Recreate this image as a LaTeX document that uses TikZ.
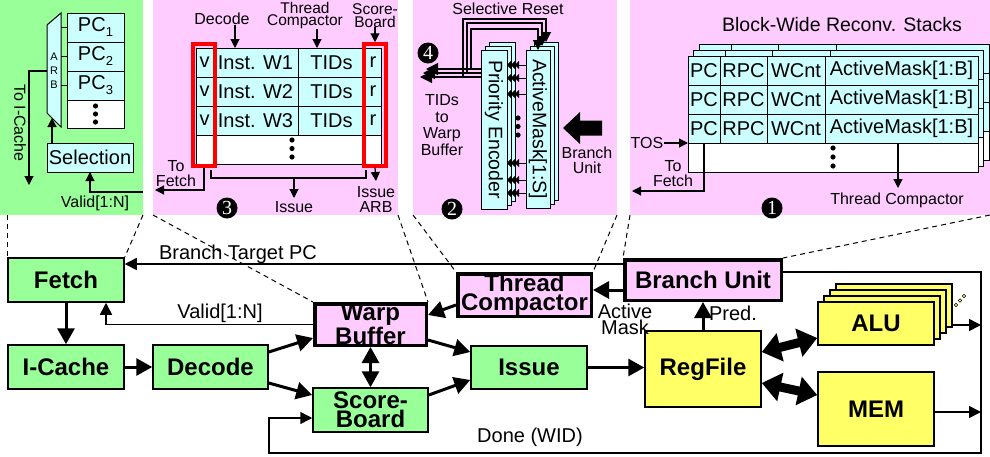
\documentclass[tikz,border=0pt]{standalone}
\usepackage{fontspec}
\setmainfont{Liberation Sans}
\newfontfamily\numfont{Liberation Serif}
\usetikzlibrary{arrows.meta,calc}

\definecolor{gpanel}{HTML}{99FF99}
\definecolor{ppanel}{HTML}{FFCCFF}
\definecolor{ccell}{HTML}{CCFFFF}
\definecolor{ybox}{HTML}{FFFF66}

\tikzset{
  fs/.style={font=\fontsize{#1}{#1}\selectfont},
  lab/.style={inner sep=0pt, align=center, font=\fontsize{16}{15.5}\selectfont},
  blab/.style={inner sep=0pt, align=center, font=\fontsize{20}{16}\selectfont},
  panel/.style={inner sep=0pt, outer sep=0pt, anchor=north west, draw=none},
  cell/.style={draw, fill=ccell, line width=1pt, inner sep=0pt, outer sep=0pt, font=\fontsize{20}{20}\selectfont},
  stagebox/.style={draw, line width=1.5pt, inner sep=0pt, align=center, font=\bfseries\fontsize{24}{19}\selectfont},
  gstage/.style={stagebox, fill=gpanel},
  pstage/.style={stagebox, fill=ppanel, line width=3.5pt},
  ystage/.style={stagebox, fill=ybox},
  redframe/.style={draw=red, line width=3.5pt, inner sep=0pt, fill=none},
  pwire/.style={line width=1.2pt},
  ptip/.style={-{Triangle[length=9pt,width=9pt]}},
  wire/.style={line width=1.5pt, -{Triangle[length=12pt,width=12pt]}},
  fatwire/.style={line width=3pt, -{Triangle[length=16pt,width=17pt]}},
  fatboth/.style={line width=3pt, {Triangle[length=16pt,width=17pt]}-{Triangle[length=16pt,width=17pt]}},
  widebus/.style={line width=9pt, {Triangle[length=19pt,width=28pt]}-{Triangle[length=19pt,width=28pt]}},
  zoomline/.style={line width=1pt, dash pattern=on 5pt off 4pt},
  numc/.style={circle, fill=black, text=white, minimum size=21pt, inner sep=0pt, font=\numfont\fontsize{20}{20}\selectfont},
}

\begin{document}
\begin{tikzpicture}[x=1pt,y=-1pt]
\useasboundingbox (0,0) rectangle (990,456);

% ---------------- detail panels
\node[panel, fill=gpanel, minimum width=143pt, minimum height=215pt] (pg) at (0,0) {};
\node[panel, fill=ppanel, minimum width=245pt, minimum height=215pt] (p3) at (153,0) {};
\node[panel, fill=ppanel, minimum width=204pt, minimum height=215pt] (p2) at (413,0) {};
\node[panel, fill=ppanel, minimum width=360pt, minimum height=215pt] (p1) at (630,0) {};

% ---------------- fetch detail: PC table, arbiter, selection
\draw[fill=ccell, line width=1pt] (47,25) -- (61,13) -- (61,127) -- (47,113) -- cycle;
\node[fs=11, inner sep=0pt] (arbA) at (54,57) {A};
\node[fs=11, inner sep=0pt] (arbR) at (54,71) {R};
\node[fs=11, inner sep=0pt] (arbB) at (54,85) {B};
\coordinate (arbout) at (47,71);
\coordinate (arbin) at (52,118);
\foreach \i/\y in {1/27.5,2/56.5,3/85.5}{
  \node[cell, minimum width=57pt, minimum height=29pt] (pc\i) at (95.5,\y) {PC\raisebox{-5pt}{\fontsize{13}{13}\selectfont\i}};
  \draw[line width=1pt] (pc\i.west) -- ++(-6,0);
}
\node[cell, fill=white, minimum width=57pt, minimum height=28pt] (pcdots) at (95.5,114) {};
\foreach \y in {106,114,122} \fill (95.5,\y) circle (2.6);
\node[cell, minimum width=86pt, minimum height=29pt] (sel) at (90,157.5) {Selection};
\draw[pwire, ptip] ([xshift=-38pt]sel.north) -- (arbin);
\coordinate (toic) at (29,185);
\draw[pwire, ptip] (arbout) -| (toic);
\node[lab, rotate=-90] (toictxt) at (20,123) {To I-Cache};
\coordinate (gvin) at (143,192);
\draw[pwire, ptip] (gvin) -| (sel.south);
\node[lab] (gvtxt) at (95,203) {Valid[1:N]};

% ---------------- warp buffer detail
\foreach \r/\y in {1/62.5,2/91.5,3/120.5}{
  \node[cell, minimum width=17pt, minimum height=29pt] (v\r) at (204.5,\y) {v};
  \node[cell, minimum width=85pt, minimum height=29pt] (in\r) at (255.5,\y) {Inst. W\r};
  \node[cell, minimum width=67pt, minimum height=29pt] (td\r) at (331.5,\y) {TIDs};
  \node[cell, minimum width=16pt, minimum height=29pt] (rr\r) at (373,\y) {r};
}
\node[cell, fill=white, minimum width=17pt, minimum height=29pt] (v4) at (204.5,149.5) {};
\node[cell, fill=white, minimum width=152pt, minimum height=29pt] (in4) at (289,149.5) {};
\node[cell, fill=white, minimum width=16pt, minimum height=29pt] (rr4) at (373,149.5) {};
\foreach \y in {140,148.5,157} \fill (292,\y) circle (2.6);
\node[redframe, minimum width=22pt, minimum height=122pt] (redv) at (204,105) {};
\node[redframe, minimum width=22pt, minimum height=122pt] (redr) at (375,105) {};

\node[lab] (declab) at (222,19) {Decode};
\node[lab, font=\fontsize{15.5}{12.5}\selectfont] (tclab) at (305,15.5) {Thread\\Compactor};
\node[lab, font=\fontsize{15.5}{12.5}\selectfont] (sblab) at (375,15.5) {Score-\\Board};
\draw[pwire, ptip] ([xshift=13pt]declab.south) -- ([xshift=-20.5pt]in1.north);
\draw[pwire, ptip] ([xshift=12pt]tclab.south) -- ([xshift=-14.5pt]td1.north);
\draw[pwire, ptip] (sblab.south) -- (redr.north);

\coordinate (p3fetch) at (155,190);
\draw[pwire, ptip] (redv.south) |- (p3fetch);
\node[lab] (p3ftxt) at (176,173.5) {To\\Fetch};
\coordinate (brl) at (211,170);
\coordinate (brr) at (366,170);
\coordinate (brm) at (294,178);
\coordinate (issend) at (294,198);
\draw[pwire] (brl) -- (211,178) -- (366,178) -- (brr);
\draw[pwire, ptip] (brm) -- (issend);
\node[lab] (isslab) at (294,207) {Issue};
\coordinate (arbend) at (376,181);
\draw[pwire, ptip] (redr.south) -- (arbend);
\node[lab] (arblab) at (376,199.5) {Issue\\ARB};
\node[numc] (n3) at (227,208) {3};

% ---------------- thread compactor detail
\foreach \k in {2,1,0}{
  \node[cell, minimum width=26pt, minimum height=159pt] (pe\k) at ({494+4*\k},{129.5-4*\k}) {};
  \node[cell, minimum width=24pt, minimum height=158pt] (am\k) at ({538+4*\k},{129-4*\k}) {};
}
\node[fs=19.5, rotate=-90, inner sep=0pt] (petxt) at (pe0) {Priority Encoder};
\node[fs=19.5, rotate=-90, inner sep=0pt] (amtxt) at (am0) {ActiveMask[1:S]};
\foreach \y [count=\n] in {65,78,94,163,180,193}{
  \coordinate (pa\n) at (0,\y);
  \draw[line width=1pt, -{Triangle[length=4pt,width=8pt]Triangle[length=4pt,width=8pt]Triangle[length=4pt,width=8pt]}] (am0.west |- pa\n) -- (pe0.east |- pa\n);
}
\foreach \y in {118,126.5,135} \fill (518,\y) circle (2.6);
\foreach \i/\y/\xe/\xb/\yt in {0/69/426/471/29, 1/73/423/467/23, 2/77/420/463/19}{
  \coordinate (tid\i) at (\xe,\y);
  \coordinate (rs\i) at (\xb,\y);
  \draw[pwire, -{Triangle[length=12pt,width=12pt]}] (pe0.west |- tid\i) -- (tid\i);
  \draw[pwire, -{Triangle[length=10pt,width=10pt]}] (rs\i) -- (\xb,\yt) -| (am\i.north);
}
\node[lab] (srlab) at (508,8.5) {Selective Reset};
\node[lab, font=\fontsize{16}{16.5}\selectfont] (tidlab) at (442,125) {TIDs\\to\\Warp\\Buffer};
\fill (602,120.5) -- (580,120.5) -- (580,112) -- (563,128) -- (580,144) -- (580,135.5) -- (602,135.5) -- cycle;
\node[lab, font=\fontsize{16}{15}\selectfont] (bulab) at (587,160.5) {Branch\\Unit};
\node[numc] (n4) at (428,53) {4};
\node[numc] (n2) at (452,209) {2};

% ---------------- reconvergence stack detail
\foreach \k in {2,1}{
  \foreach \r/\y in {1/70.5,2/99.5,3/128.5}{
    \node[cell, minimum width=32pt, minimum height=29pt] (b\k-pc\r) at ({704+5.5*\k},{\y-6*\k}) {};
    \node[cell, minimum width=47pt, minimum height=29pt] (b\k-rpc\r) at ({743.5+5.5*\k},{\y-6*\k}) {};
    \node[cell, minimum width=58pt, minimum height=29pt] (b\k-wc\r) at ({796+5.5*\k},{\y-6*\k}) {};
    \node[cell, minimum width=153pt, minimum height=29pt] (b\k-am\r) at ({901.5+5.5*\k},{\y-6*\k}) {};
  }
  \node[cell, fill=white, minimum width=290pt, minimum height=29pt] (b\k-dots) at ({833+5.5*\k},{157.5-6*\k}) {};
}
\foreach \r/\y in {1/70.5,2/99.5,3/128.5}{
  \node[cell, minimum width=32pt, minimum height=29pt] (pc-\r) at (704,\y) {PC};
  \node[cell, minimum width=47pt, minimum height=29pt] (rpc-\r) at (743.5,\y) {RPC};
  \node[cell, minimum width=58pt, minimum height=29pt] (wc-\r) at (796,\y) {WCnt};
  \node[cell, minimum width=153pt, minimum height=29pt] (am-\r) at (901.5,\y) {ActiveMask[1:B]};
}
\node[cell, fill=white, minimum width=290pt, minimum height=29pt] (stkdots) at (833,157.5) {};
\foreach \y in {148,157,166} \fill (833,\y) circle (2.6);
\node[fs=19.5, inner sep=0pt] (stktitle) at (842,25) {Block-Wide Reconv. Stacks};
\node[lab] (tos) at (647,143) {TOS};
\draw[pwire, ptip] (tos.east) -- (pc-3.south west);
\coordinate (p1fetch) at (632,191);
\draw[pwire, ptip] (pc-3.south) |- (p1fetch);
\node[lab] (p1ftxt) at (673,173.5) {To\\Fetch};
\coordinate (p1tc) at (898,188);
\draw[pwire, ptip] ([xshift=-3.5pt]am-3.south) -- (p1tc);
\node[lab] (p1tclab) at (897,200) {Thread Compactor};
\node[numc] (n1) at (772,208) {1};

% ---------------- pipeline stages
\node[gstage, minimum width=116pt, minimum height=44pt] (fetch) at (66,280) {Fetch};
\node[gstage, minimum width=116pt, minimum height=44pt] (icache) at (66,367) {I-Cache};
\node[gstage, minimum width=115pt, minimum height=44pt] (decode) at (210.5,367) {Decode};
\node[pstage, minimum width=111.5pt, minimum height=41.5pt] (wb) at (370.5,324.5) {Warp\\Buffer};
\node[gstage, minimum width=115pt, minimum height=44pt] (sb) at (370.5,410) {Score-\\Board};
\node[pstage, minimum width=133.5pt, minimum height=42.5pt] (tc) at (524.5,295) {Thread\\Compactor};
\node[gstage, minimum width=116pt, minimum height=43pt] (issue) at (529,367.5) {Issue};
\node[pstage, minimum width=156.5pt, minimum height=40.5pt] (bu) at (703,280) {Branch Unit};
\node[ystage, minimum width=116pt, minimum height=76pt] (rf) at (703,369) {RegFile};
\foreach \k in {3,2,1}{
  \node[ystage, minimum width=116pt, minimum height=43pt] (alu\k) at ({876+6*\k},{323.5-6*\k}) {};
}
\node[ystage, minimum width=116pt, minimum height=43pt] (alu0) at (876,323.5) {ALU};
\node[ystage, minimum width=116pt, minimum height=74pt] (mem) at (876,409) {MEM};
\foreach \x/\y in {956/305,960/300.5,964/296}
  \draw[fill=ybox, line width=0.6pt] (\x,\y) circle (1.8);

% ---------------- zoom guides
\draw[zoomline] (fetch.north west |- pg.south) -- (fetch.north west);
\draw[zoomline] (pg.south east) -- (fetch.north east);
\draw[zoomline] (p3.south west) -- (wb.north west);
\draw[zoomline] (p3.south east) -- (wb.north east);
\draw[zoomline] (p2.south west) -- (tc.north west);
\draw[zoomline] (p2.south east) -- (tc.north east);
\draw[zoomline] (p1.south west) -- (bu.north west);
\draw[zoomline] (p1.south east) -- (bu.north east);

% ---------------- pipeline connections
\draw[fatwire] (fetch.south) -- (icache.north);
\draw[fatwire] (icache.east) -- (decode.west);
\draw[fatwire] ([yshift=15pt]decode.east) -- ([yshift=-13.5pt]wb.west);
\draw[fatwire] ([yshift=-16pt]decode.east) -- ([yshift=15pt]sb.west);
\draw[fatwire] ([yshift=-15.5pt]wb.east) -- ([yshift=15.5pt]issue.west);
\draw[fatwire] ([yshift=15pt]sb.east) -- ([yshift=-12.5pt]issue.west);
\draw[fatboth] (wb.south) -- (sb.north);
\draw[fatwire] ([yshift=-10pt]tc.west) -- ([yshift=9.5pt]wb.east);
\draw[fatwire] (issue.east) -- (issue.east -| rf.west);
\draw[fatwire] (rf.north) -- (bu.south);
\node[blab] (predlab) at (733,313) {Pred.};
\coordinate (amsrc) at ([yshift=-10pt]bu.west);
\draw[fatwire] (amsrc) -- (amsrc -| tc.east);
\node[blab] (amlab) at (625,319.5) {Active\\Mask};
\draw[widebus] ([yshift=17pt]rf.east) -- ([yshift=-14.5pt]alu0.west);
\draw[widebus] ([yshift=-14pt]rf.east) -- ([yshift=14pt]mem.west);

\coordinate (btpc) at ([yshift=16pt]bu.west);
\draw[wire] (btpc) -- (btpc -| fetch.east);
\node[blab] (btpclab) at (238,254) {Branch Target PC};
\draw[wire] (wb.west) -| ([xshift=40pt]fetch.south);
\node[blab] (validlab) at (220,313) {Valid[1:N]};

\coordinate (busT) at (981,272);
\coordinate (busB) at (981,453);
\coordinate (loopL) at (269,453);
\coordinate (aluo) at (981,325);
\coordinate (memo) at (981,412);
\draw[wire] ([yshift=8pt]bu.east) -- (busT) -- (busB) -- (loopL) |- ([yshift=-8pt]sb.west);
\draw[wire] (alu3.east |- aluo) -- (aluo);
\draw[wire] (mem.east |- memo) -- (memo);
\node[blab] (donelab) at (530,437) {Done (WID)};
\end{tikzpicture}
\end{document}
